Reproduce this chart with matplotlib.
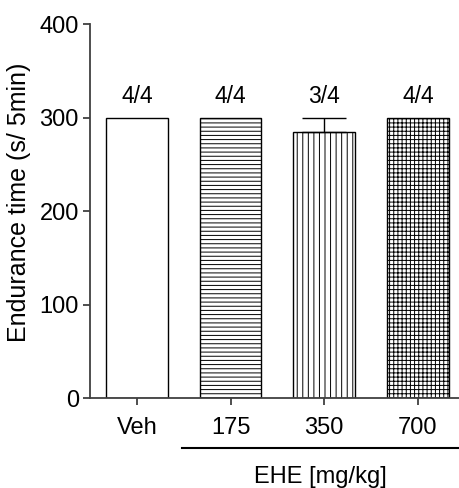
import matplotlib
matplotlib.use("Agg")
import matplotlib.pyplot as plt

# data
groups = ["Veh", "175", "350", "700"]
means = [300, 300, 284, 300]
sems = [0, 0, 16, 0]
counts = ["4/4", "4/4", "3/4", "4/4"]
hatches = ["", "----", "|||", "++++"]

plt.rcParams["font.family"] = ["Liberation Sans", "DejaVu Sans"]
plt.rcParams["hatch.linewidth"] = 0.7

fig = plt.figure(figsize=(4.6, 4.88), dpi=100)
ax = fig.add_axes([0.1957, 0.1844, 0.8043, 0.7664])

x = list(range(len(groups)))
ax.bar(x, means, width=0.66, color="white", edgecolor="black",
       linewidth=1.0, hatch=hatches)
ax.errorbar(x[2], means[2], yerr=[[0], [sems[2]]], fmt="none",
            ecolor="black", elinewidth=1.0, capsize=16, capthick=1.0)

for xi, c in zip(x, counts):
    ax.text(xi, 316, c, ha="center", va="baseline", fontsize=16.5)

ax.set_xlim(-0.5, 3.45)
ax.set_ylim(0, 400)
ax.set_yticks([0, 100, 200, 300, 400])
ax.set_xticks(x)
ax.set_xticklabels(groups)
ax.set_ylabel("Endurance time (s/ 5min)", fontsize=18)
ax.yaxis.set_label_coords(-0.16, 0.524)

for side in ["top", "right"]:
    ax.spines[side].set_visible(False)
for side in ["left", "bottom"]:
    ax.spines[side].set_color("#404040")
    ax.spines[side].set_linewidth(1.3)
ax.tick_params(axis="both", labelsize=17, length=5, width=1.3,
               color="#404040", pad=3)
ax.tick_params(axis="x", pad=9)

# bracket under dose groups
fig.add_artist(plt.Line2D([182 / 460, 458 / 460], [1 - 448 / 488, 1 - 448 / 488],
                          color="black", linewidth=1.5))
fig.text(320 / 460, 1 - 477 / 488, "EHE [mg/kg]", ha="center", va="center",
         fontsize=17)

fig.savefig("out.png", dpi=100)
